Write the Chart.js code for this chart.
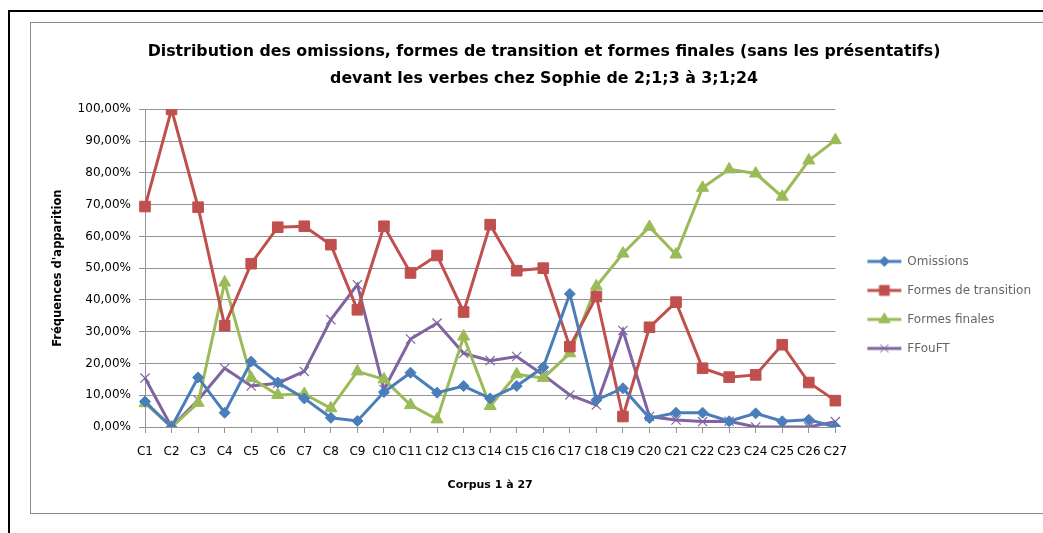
<!DOCTYPE html>
<html>
<head>
<meta charset="utf-8">
<script src="https://cdn.jsdelivr.net/npm/chart.js@4"></script>
<style>
  body { margin: 0; background: #fff; }
  #outer { position: absolute; left: 8px; top: 10px; width: 1100px; height: 600px; border: 2px solid #000; }
  #frame { position: absolute; left: 30px; top: 22px; width: 1100px; height: 490px; border: 1px solid #8c8c8c; }
  #wrap { position: absolute; left: 30px; top: 23px; width: 1013px; height: 490px; }
</style>
</head>
<body>
<div id="outer"></div>
<div id="frame"></div>
<div id="wrap"><canvas id="chart"></canvas></div>
<script>
// categories C1..C27
const corpus = ['C1','C2','C3','C4','C5','C6','C7','C8','C9','C10','C11','C12','C13','C14',
  'C15','C16','C17','C18','C19','C20','C21','C22','C23','C24','C25','C26','C27'];

// values, in %
const omissions = [8.0, 0, 15.6, 4.5, 20.6, 14.0, 9.0, 2.9, 1.9, 11.0, 17.1, 10.8, 12.9, 9.0,
  12.9, 18.8, 41.9, 8.5, 12.2, 2.8, 4.5, 4.5, 1.8, 4.3, 1.8, 2.3, 0];
const transition = [69.4, 100, 69.2, 31.9, 51.4, 62.9, 63.2, 57.4, 36.9, 63.2, 48.5, 54.0, 36.2, 63.7,
  49.2, 50.0, 25.3, 41.1, 3.3, 31.4, 39.3, 18.5, 15.7, 16.4, 25.9, 14.0, 8.3];
const finales = [7.5, 0, 7.6, 45.5, 15.4, 10.1, 10.4, 5.9, 17.5, 15.0, 6.9, 2.4, 28.5, 6.6,
  16.6, 15.4, 23.2, 44.3, 54.6, 63.0, 54.3, 75.3, 81.1, 79.8, 72.5, 83.9, 90.3];
const ffouft = [15.4, 0, 8.5, 18.5, 12.9, 13.8, 17.5, 33.8, 44.8, 11.8, 27.7, 32.7, 23.2, 20.9,
  22.2, 16.4, 10.1, 6.9, 30.4, 3.3, 2.2, 1.7, 1.8, 0, 0, 0, 1.7];

const yTicks = [0, 10, 20, 30, 40, 50, 60, 70, 80, 90, 100];

const seriesNames = ['Omissions', 'Formes de transition', 'Formes finales', 'FFouFT'];
const seriesColors = ['#4a7ebb', '#c0504d', '#9bbb59', '#8064a2'];
const seriesPoints = ['rectRot', 'rect', 'triangle', 'crossRot'];
const pointSizes = [5.5, 7.5, 7, 6.5];

// little line + marker image for the legend, like Excel
function legendIcon(i) {
  const c = document.createElement('canvas');
  c.width = 36; c.height = 16;
  const ctx = c.getContext('2d');
  ctx.strokeStyle = seriesColors[i];
  ctx.lineWidth = 3;
  ctx.beginPath(); ctx.moveTo(1, 8); ctx.lineTo(35, 8); ctx.stroke();
  ctx.fillStyle = seriesColors[i];
  ctx.lineWidth = 1;
  Chart.helpers.drawPoint(ctx, { pointStyle: seriesPoints[i], radius: pointSizes[i] - 0.5, rotation: 0, borderWidth: 1 }, 18, 8);
  return c;
}

const seriesData = [omissions, transition, finales, ffouft];
const datasets = seriesData.map((d, i) => ({
  label: seriesNames[i],
  data: d,
  borderColor: seriesColors[i],
  backgroundColor: seriesColors[i],
  borderWidth: 3,
  pointStyle: seriesPoints[i],
  pointRadius: pointSizes[i],
  pointBorderWidth: i === 3 ? 1.2 : 1,
  pointHoverRadius: pointSizes[i],
  tension: 0,
  yAxisID: 'y'
}));

const tickFont = { family: 'DejaVu Sans', size: 12 };
const gridColor = '#939393';

new Chart(document.getElementById('chart'), {
  type: 'line',
  data: { labels: corpus, datasets: datasets },
  options: {
    responsive: true,
    maintainAspectRatio: false,
    animation: false,
    layout: { padding: { left: 17, right: 2, top: 0, bottom: 17 } },
    plugins: {
      tooltip: { enabled: false },
      title: {
        display: true,
        text: ['Distribution des omissions, formes de transition et formes finales (sans les présentatifs)',
               'devant les verbes chez Sophie de 2;1;3 à 3;1;24'],
        color: '#000',
        font: { family: 'DejaVu Sans', size: 15.8, weight: 'bold', lineHeight: 1.72 },
        padding: { top: 15, bottom: 17 }
      },
      legend: {
        position: 'right',
        align: 'start',
        maxWidth: 230,
        title: { display: true, text: ' ', padding: { top: 0, bottom: 201 }, font: { size: 12 } },
        labels: {
          color: '#000',
          font: { family: 'DejaVu Sans', size: 12 },
          usePointStyle: true,
          pointStyleWidth: 34,
          padding: 17,
          generateLabels: chart => chart.data.datasets.map((ds, i) => ({
            text: ds.label,
            pointStyle: legendIcon(i),
            fillStyle: ds.borderColor,
            strokeStyle: ds.borderColor,
            lineWidth: 0,
            hidden: false,
            datasetIndex: i
          }))
        }
      }
    },
    scales: {
      x: {
        offset: false,
        grid: { display: true, drawOnChartArea: false, drawTicks: true, tickLength: 6, color: gridColor },
        border: { color: gridColor },
        ticks: { color: '#000', font: tickFont, autoSkip: false, maxRotation: 0, padding: 12 },
        title: { display: true, text: 'Corpus 1 à 27', color: '#000', font: { family: 'DejaVu Sans', size: 11, weight: 'bold' } },
        afterFit: s => { s.height = 69; }
      },
      y: {
        min: 0,
        max: 100,
        afterBuildTicks: s => { s.ticks = yTicks.map(v => ({ value: v })); },
        grid: { color: gridColor, tickLength: 6 },
        border: { color: gridColor },
        ticks: { color: '#000', font: tickFont, padding: 8,
          callback: v => v.toFixed(2).replace('.', ',') + '%' },
        title: { display: true, text: "Fréquences d'apparition", color: '#000', font: { family: 'DejaVu Sans', size: 11.5, weight: 'bold' } },
        afterFit: s => { s.width = 98; }
      },
      // empty spacer between the plot and the legend
      gap: {
        position: 'right',
        grid: { display: false },
        border: { display: false },
        ticks: { display: false },
        afterFit: s => { s.width = 15; }
      }
    }
  }
});
</script>
</body>
</html>
